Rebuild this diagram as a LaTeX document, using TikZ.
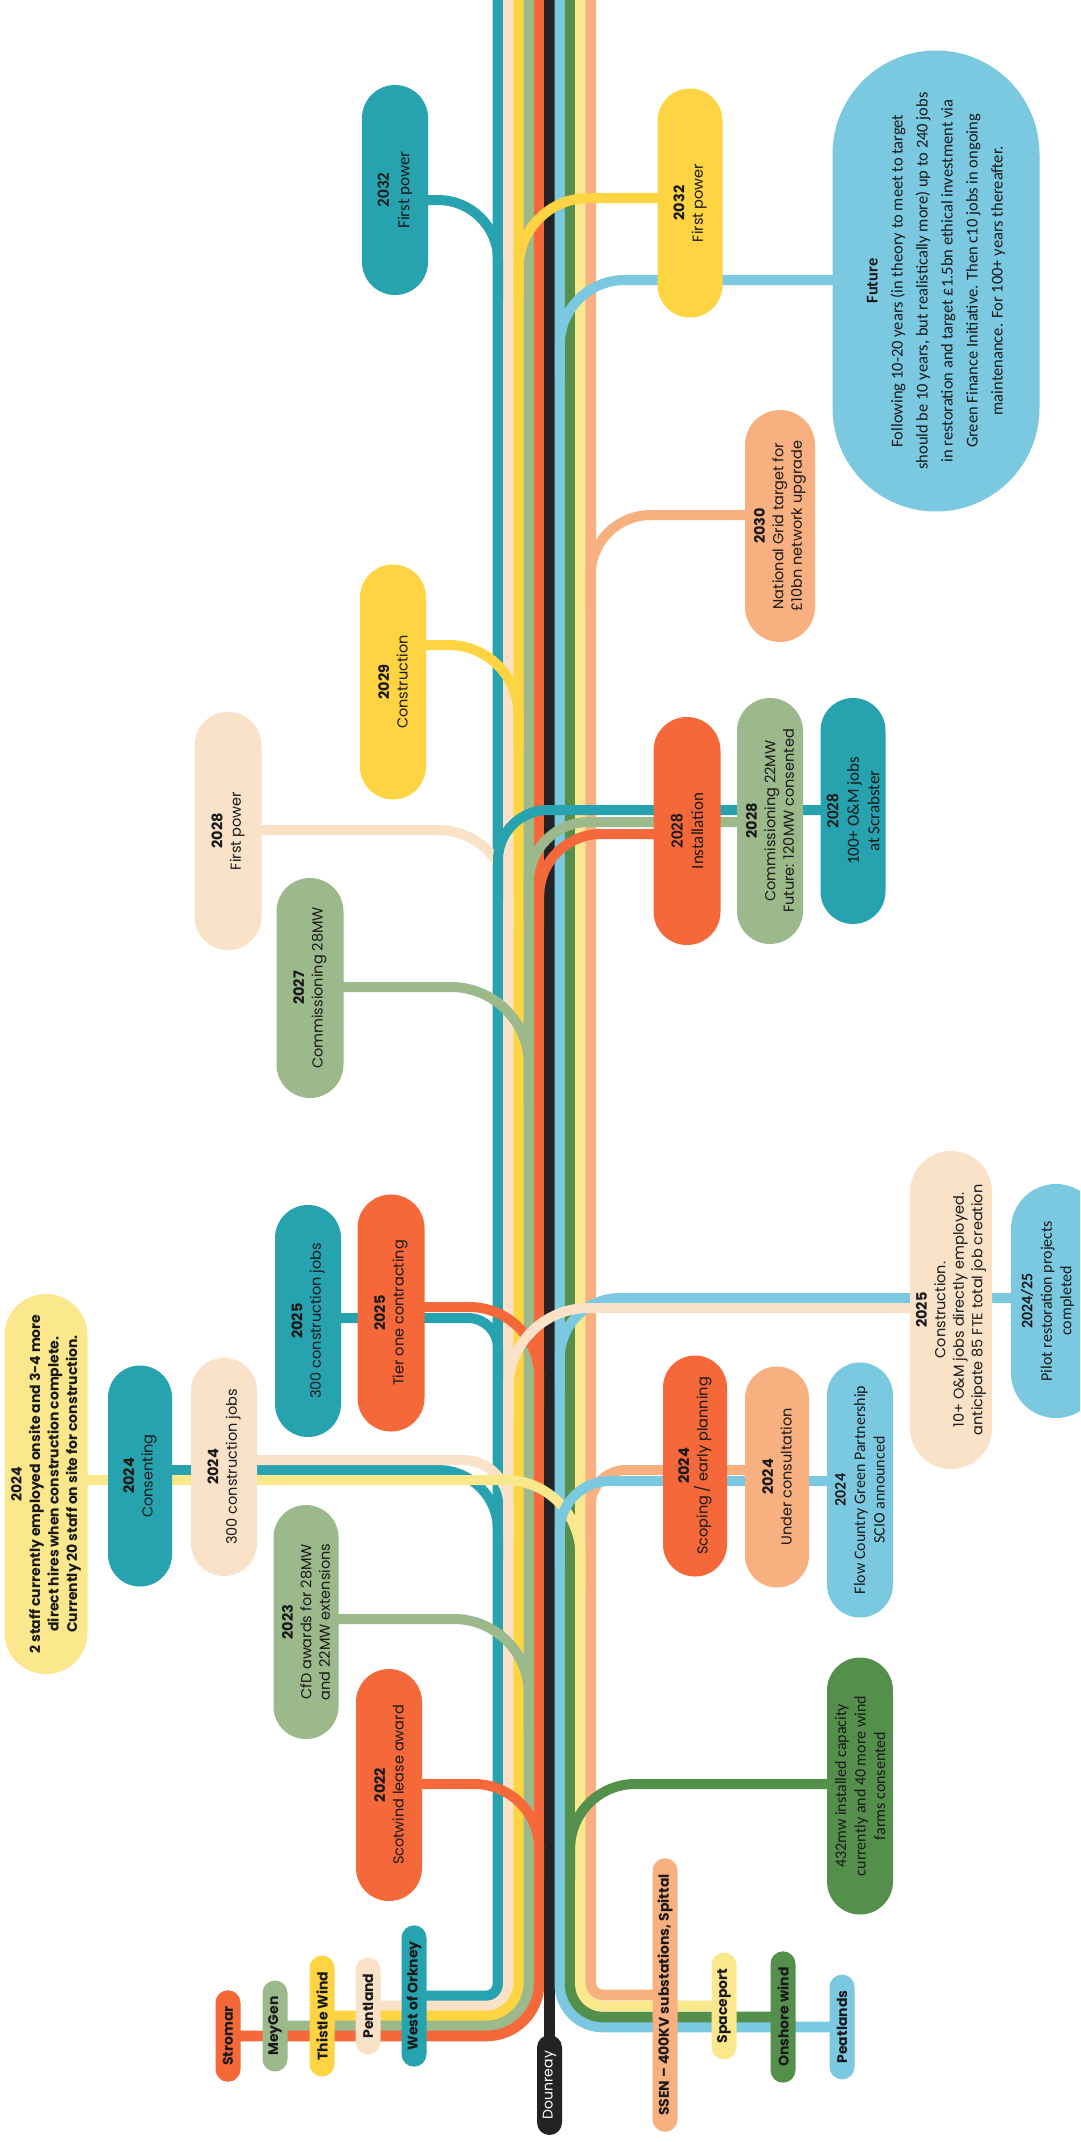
\documentclass[tikz,border=0pt]{standalone}
\usepackage{fontspec}
\setmainfont{Poppins}
\newfontfamily\calib{Carlito}
\definecolor{cTeal}{RGB}{38,163,174}
\definecolor{cBeige}{RGB}{250,226,200}
\definecolor{cYellow}{RGB}{254,212,66}
\definecolor{cSage}{RGB}{156,185,140}
\definecolor{cOrange}{RGB}{244,104,58}
\definecolor{cBlack}{RGB}{35,35,38}
\definecolor{cLBlue}{RGB}{122,201,224}
\definecolor{cDGreen}{RGB}{84,143,76}
\definecolor{cLYellow}{RGB}{251,232,140}
\definecolor{cSalmon}{RGB}{249,176,128}
\definecolor{cText}{RGB}{25,25,25}
\tikzset{
  ln/.style={line width=10.6pt, draw=#1, line cap=butt, line join=round},
  br/.style={line width=10pt, draw=#1, line cap=butt},
  ev/.style={rotate=90, fill=#1, inner sep=0pt, align=center, text=cText, font=\fontsize{14.5}{18.5}\selectfont},
  evc/.style={ev=#1, font=\calib\fontsize{17}{20.5}\selectfont},
  pill/.style 2 args={minimum height=#1pt, minimum width=#2pt, rounded corners=#1/2*1pt},
  lg/.style={rotate=90, fill=#1, text=cText, font=\bfseries\fontsize{14}{16}\selectfont, inner xsep=16pt, inner ysep=0pt, minimum height=25pt, rounded corners=12.5pt},
}
\newcommand\brch[6]{\draw[br=#1, rounded corners=#5pt] (#2 |- 0,#3) -- (#4 |- 0,#3) -- (#4 |- 0,#6);}
\begin{document}
\begin{tikzpicture}[x=1pt,y=-1pt]
\clip (0,0) rectangle (1080,2142);
\fill[white] (0,0) rectangle (1080,2142);
% trunk coordinates
\coordinate (tTeal) at (498,-10);
\coordinate (tBeige) at (508.3,-10);
\coordinate (tYellow) at (518.6,-10);
\coordinate (tSage) at (528.9,-10);
\coordinate (tOrange) at (539.2,-10);
\coordinate (tBlack) at (549.5,-10);
\coordinate (tLBlue) at (559.8,-10);
\coordinate (tDGreen) at (570.1,-10);
\coordinate (tLYellow) at (580.4,-10);
\coordinate (tSalmon) at (590.7,-10);
% legend positions
\coordinate (pStromar) at (228,2036);
\coordinate (pMeyGen) at (275,2026);
\coordinate (pThistle) at (322,2016);
\coordinate (pPent) at (368,2006);
\coordinate (pWoO) at (414,1996);
\coordinate (pDoun) at (549.5,2085);
\coordinate (pSSEN) at (665,1995);
\coordinate (pSpace) at (724,2006);
\coordinate (pOnsh) at (783,2017);
\coordinate (pPeat) at (842,2027);
% box positions
\coordinate (pA) at (395,190);
\coordinate (pB) at (690,203);
\coordinate (pFu) at (936,281);
\coordinate (pD) at (780,526);
\coordinate (pE) at (393,682);
\coordinate (pF) at (228,831);
\coordinate (pG) at (310,988);
\coordinate (pH) at (687,831);
\coordinate (pI) at (770,821);
\coordinate (pJ) at (853,811);
\coordinate (pK) at (308,1321);
\coordinate (pL) at (391,1313);
\coordinate (pM) at (951,1310);
\coordinate (pN) at (1056,1301);
\coordinate (pO) at (46,1484);
\coordinate (pP) at (140,1476);
\coordinate (pQ) at (224,1467);
\coordinate (pR) at (695,1466);
\coordinate (pS) at (777,1477);
\coordinate (pT) at (860,1490);
\coordinate (pU) at (860,1786);
\coordinate (pV) at (306,1622);
\coordinate (pW) at (389,1785);
% trunk lines with legend bends
\draw[ln=cTeal, rounded corners=12pt] (tTeal) -- (tTeal |- pWoO) -- (pWoO);
\draw[ln=cBeige, rounded corners=22pt] (tBeige) -- (tBeige |- pPent) -- (pPent);
\draw[ln=cYellow, rounded corners=33pt] (tYellow) -- (tYellow |- pThistle) -- (pThistle);
\draw[ln=cSage, rounded corners=43pt] (tSage) -- (tSage |- pMeyGen) -- (pMeyGen);
\draw[ln=cOrange, rounded corners=53pt] (tOrange) -- (tOrange |- pStromar) -- (pStromar);
\draw[ln=cBlack] (tBlack) -- (tBlack |- pDoun);
\draw[ln=cLBlue, rounded corners=43pt] (tLBlue) -- (tLBlue |- pPeat) -- (pPeat);
\draw[ln=cDGreen, rounded corners=33pt] (tDGreen) -- (tDGreen |- pOnsh) -- (pOnsh);
\draw[ln=cLYellow, rounded corners=22pt] (tLYellow) -- (tLYellow |- pSpace) -- (pSpace);
\draw[ln=cSalmon, rounded corners=12pt] (tSalmon) -- (tSalmon |- pSSEN) -- (pSSEN);
% branches
\brch{cTeal}{pA}{200}{tTeal}{60}{300}
\brch{cYellow}{pB}{198}{tYellow}{70}{300}
\brch{cLBlue}{pFu}{280}{tLBlue}{65}{380}
\brch{cSalmon}{pD}{515}{tSalmon}{60}{610}
\brch{cYellow}{pE}{645}{tYellow}{70}{750}
\brch{cBeige}{pF}{830}{tBeige}{70}{930}
\brch{cSage}{pG}{987}{tSage}{78}{1100}
\brch{cOrange}{pH}{834}{tOrange}{62}{930}
\brch{cSage}{pI}{822}{tSage}{60}{920}
\brch{cTeal}{pJ}{810}{tTeal}{50}{900}
\brch{cTeal}{pK}{1318}{tTeal}{30}{1380}
\brch{cOrange}{pL}{1307}{tOrange}{70}{1410}
\brch{cLBlue}{pN}{1298}{tLBlue}{60}{1390}
\brch{cBeige}{pM}{1308}{tBeige}{80}{1420}
\brch{cTeal}{pP}{1470}{tTeal}{60}{1560}
\brch{cBeige}{pQ}{1460}{tBeige}{45}{1540}
\brch{cLYellow}{pO}{1480}{tLYellow}{75}{1590}
\brch{cSalmon}{pS}{1470}{tSalmon}{35}{1540}
\brch{cLBlue}{pT}{1481}{tLBlue}{50}{1570}
\brch{cDGreen}{pU}{1784}{tDGreen}{65}{1880}
\brch{cSage}{pV}{1619}{tSage}{75}{1730}
\brch{cOrange}{pW}{1784}{tOrange}{65}{1880}
% event boxes
\node[evc=cTeal, pill={66}{210}] (A) at (pA) {\textbf{2032}\\First power};
\node[ev=cYellow, pill={65}{229}] (B) at (pB) {\textbf{2032}\\First power};
\node[ev=cLBlue, pill={207}{461}, font=\calib\fontsize{16.5}{25}\selectfont] (Fu) at (pFu) {\textbf{Future}\\Following 10-20 years (in theory to meet to target\\should be 10 years, but realistically more) up to 240 jobs\\in restoration and target £1.5bn ethical investment via\\Green Finance Initiative. Then c10 jobs in ongoing\\maintenance. For 100+ years thereafter.};
\node[ev=cSalmon, pill={70}{232}] (D) at (pD) {\textbf{2030}\\National Grid target for\\£10bn network upgrade};
\node[ev=cYellow, pill={66}{235}] (E) at (pE) {\textbf{2029}\\Construction};
\node[ev=cBeige, pill={67}{238}] (F) at (pF) {\textbf{2028}\\First power};
\node[ev=cSage, pill={67}{220}] (G) at (pG) {\textbf{2027}\\Commissioning 28MW};
\node[evc=cOrange, pill={67}{228}] (H) at (pH) {\textbf{2028}\\Installation};
\node[ev=cSage, pill={66}{246}] (I) at (pI) {\textbf{2028}\\Commissioning 22MW\\Future: 120MW consented};
\node[evc=cTeal, pill={65}{226}] (J) at (pJ) {\textbf{2028}\\100+ O\&M jobs\\at Scrabster};
\node[ev=cTeal, pill={66}{232}] (K) at (pK) {\textbf{2025}\\300 construction jobs};
\node[ev=cOrange, pill={67}{237}] (L) at (pL) {\textbf{2025}\\Tier one contracting};
\node[ev=cBeige, pill={82}{318}] (M) at (pM) {\textbf{2025}\\Construction.\\10+ O\&M jobs directly employed.\\anticipate 85 FTE total job creation};
\node[evc=cLBlue, pill={90}{234}, font=\calib\fontsize{16}{19.5}\selectfont] (N) at (pN) {\textbf{2024/25}\\Pilot restoration projects\\completed\\\mbox{}};
\node[ev=cLYellow, pill={83}{380}, font=\bfseries\fontsize{14}{18.5}\selectfont] (O) at (pO) {2024\\2 staff currently employed onsite and 3-4 more\\direct hires when construction complete.\\Currently 20 staff on site for construction.};
\node[ev=cTeal, pill={64}{221}] (P) at (pP) {\textbf{2024}\\Consenting};
\node[ev=cBeige, pill={66}{218}] (Q) at (pQ) {\textbf{2024}\\300 construction jobs};
\node[ev=cOrange, pill={64}{221}] (R) at (pR) {\textbf{2024}\\Scoping / early planning};
\node[ev=cSalmon, pill={64}{221}] (S) at (pS) {\textbf{2024}\\Under consultation};
\node[evc=cLBlue, pill={66}{255}, font=\calib\fontsize{16}{19.5}\selectfont] (T) at (pT) {\textbf{2024}\\Flow Country Green Partnership\\SCIO announced};
\node[evc=cDGreen, pill={66}{257}, font=\calib\fontsize{16}{19.5}\selectfont] (U) at (pU) {432mw installed capacity\\currently and 40 more wind\\farms consented};
\node[ev=cSage, pill={65}{234}] (V) at (pV) {\textbf{2023}\\CfD awards for 28MW\\and 22MW extensions};
\node[ev=cOrange, pill={66}{232}] (W) at (pW) {\textbf{2022}\\Scotwind lease award};
% legend
\node[lg=cOrange] (Stromar) at (pStromar) {Stromar};
\node[lg=cSage] (MeyGen) at (pMeyGen) {MeyGen};
\node[lg=cYellow] (Thistle) at (pThistle) {Thistle Wind};
\node[lg=cBeige] (Pent) at (pPent) {Pentland};
\node[lg=cTeal] (WoO) at (pWoO) {West of Orkney};
\node[lg=cBlack, text=white, font=\fontsize{14}{16}\selectfont] (Doun) at (pDoun) {Dounreay};
\node[lg=cSalmon] (SSEN) at (pSSEN) {SSEN – 400KV substations, Spittal};
\node[lg=cLYellow] (Space) at (pSpace) {Spaceport};
\node[lg=cDGreen] (Onsh) at (pOnsh) {Onshore wind};
\node[lg=cLBlue] (Peat) at (pPeat) {Peatlands};
\end{tikzpicture}
\end{document}
